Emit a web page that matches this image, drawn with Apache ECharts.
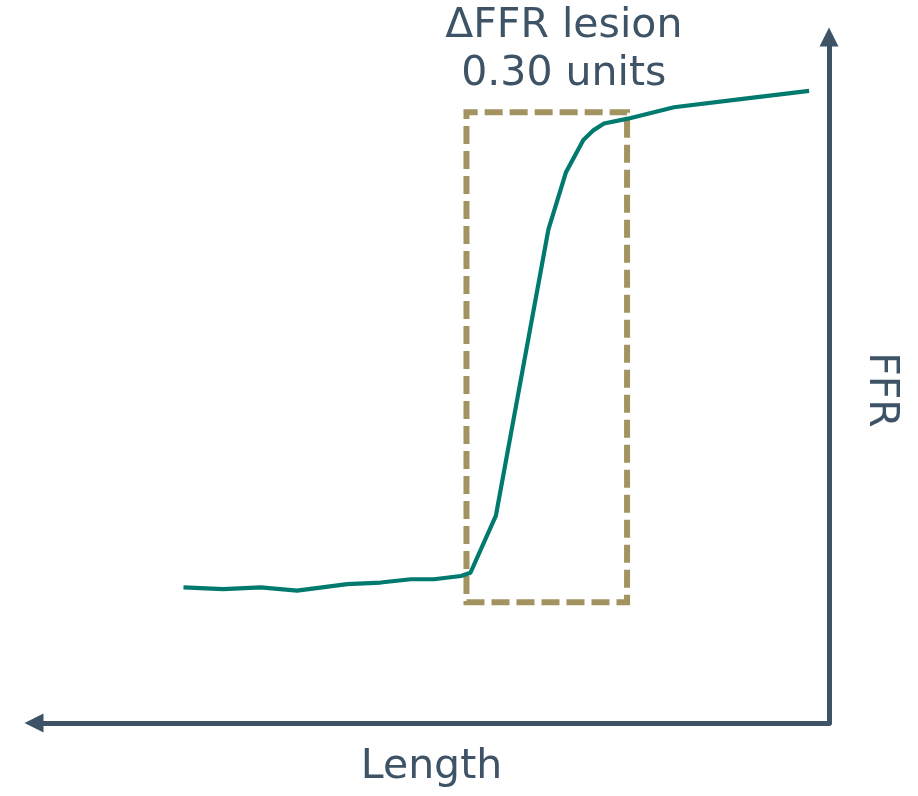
<!DOCTYPE html>
<html>
<head>
<meta charset="utf-8">
<script src="https://cdn.jsdelivr.net/npm/echarts@6/dist/echarts.min.js"></script>
<style>html,body{margin:0;padding:0;background:#fff;}#c{width:918px;height:796px;}</style>
</head>
<body>
<div id="c"></div>
<script>
// Length positions (arbitrary units, 0–100 along the axis)
const lengthValues = [18.8, 23.8, 28.5, 33.1, 39.4, 43.6, 47.4, 50.3, 53.7, 54.9, 58.1, 64.7, 66.9, 69.1, 70.4, 71.7, 74.7, 80.5, 88.9, 97.5];
// FFR values along the vessel
const ffrValues = [0.583, 0.582, 0.583, 0.581, 0.585, 0.586, 0.588, 0.588, 0.590, 0.592, 0.627, 0.802, 0.837, 0.857, 0.863, 0.867, 0.870, 0.877, 0.882, 0.887];
// Lesion box (length range, FFR range)
const lesionLength = [54.4, 74.6];
const lesionFFR = [0.574, 0.874];
const lesionLabel = ['\u0394FFR lesion', '0.30 units'];
const axisNames = { x: 'Length', y: 'FFR' };

const textColor = '#3e5366';
const axisColor = '#3e5366';
const fontFamily = '"DejaVu Sans", "Noto Sans", sans-serif';

const chart = echarts.init(document.getElementById('c'), null, { renderer: 'canvas' });
chart.setOption({
  backgroundColor: '#ffffff',
  animation: false,
  grid: { left: 34, right: 89, top: 37, bottom: 73, containLabel: false },
  xAxis: {
    type: 'value', min: 0, max: 100,
    name: axisNames.x, nameLocation: 'middle', nameGap: 24,
    nameTextStyle: { fontSize: 41, color: textColor, fontFamily: fontFamily },
    axisLine: { show: true, symbol: ['triangle', 'none'], symbolSize: [19, 19], lineStyle: { color: axisColor, width: 5 } },
    axisTick: { show: false }, axisLabel: { show: false }, splitLine: { show: false }
  },
  yAxis: {
    type: 'value', min: 0.5, max: 0.92, position: 'right',
    name: axisNames.y, nameLocation: 'middle', nameGap: 31, nameRotate: -90,
    nameTextStyle: { fontSize: 41, color: textColor, fontFamily: fontFamily, padding: [0, 0, 0, 20] },
    axisLine: { show: true, onZero: false, symbol: ['none', 'triangle'], symbolSize: [19, 19], lineStyle: { color: axisColor, width: 5 } },
    axisTick: { show: false }, axisLabel: { show: false }, splitLine: { show: false }
  },
  series: [{
    type: 'line',
    data: lengthValues.map((x, i) => [x, ffrValues[i]]),
    showSymbol: false,
    smooth: false,
    lineStyle: { color: '#007a6f', width: 4.2 },
    z: 3,
    markArea: {
      silent: true,
      itemStyle: { color: 'rgba(0,0,0,0)', borderColor: '#a39361', borderWidth: 6, borderType: [18, 7] },
      label: {
        show: true, position: 'top', distance: 11, offset: [17, 0],
        formatter: lesionLabel.join('\n'),
        fontSize: 41, lineHeight: 48, color: textColor, fontFamily: fontFamily, align: 'center'
      },
      data: [[{ coord: [lesionLength[0], lesionFFR[0]] }, { coord: [lesionLength[1], lesionFFR[1]] }]]
    }
  }]
});
</script>
</body>
</html>
